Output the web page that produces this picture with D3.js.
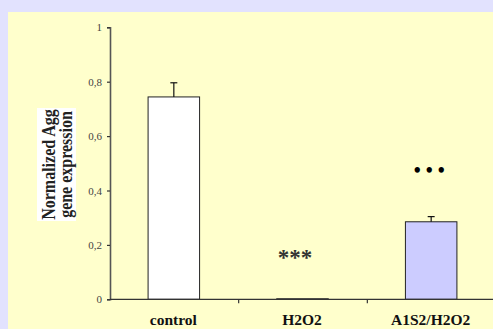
<!DOCTYPE html>
<html>
<head>
  <meta charset="utf-8">
  <title>Agg expression</title>
  <style>
    body { margin: 0; background: #e2e2fe; }
    svg { display: block; }
  </style>
</head>
<body>
  <div id="plot"></div>
  <script src="https://cdn.jsdelivr.net/npm/d3@7/dist/d3.min.js"></script>
  <script>
    // data
    let groups = ['control', 'H2O2', 'A1S2/H2O2'];
    let values = [0.744, 0.002, 0.285];
    let errors = [0.052, 0, 0.019];
    let marks = ['', '***', '\u2022\u2022\u2022'];
    let markAt = [0, 0.125, 0.45];
    let fills = ['#ffffff', '#ffffff', '#ccccff'];
    let yTicks = [0, 0.2, 0.4, 0.6, 0.8, 1];

    function translate(x, y) {
      return 'translate(' + x + ',' + y + ')';
    }

    let svgWidth = 493, svgHeight = 329;
    let margin = {top: 27.3, left: 110};
    let width = 386;    // 3 bands, last one runs off the edge
    let height = 272;
    let serif = '"Liberation Serif", "Times New Roman", serif';

    let svg = d3.select('#plot')
      .append('svg')
        .attr('width', svgWidth)
        .attr('height', svgHeight);

    // pale yellow panel
    svg.append('rect')
      .attr('x', 8).attr('y', 12)
      .attr('width', svgWidth).attr('height', svgHeight)
      .attr('fill', '#ffffcc');

    let g = svg.append('g').attr('transform', translate(margin.left, margin.top));

    let x = d3.scaleBand().domain(groups).range([0, width]).paddingInner(0).paddingOuter(0);
    let y = d3.scaleLinear().domain([0, 1]).range([height, 0]);
    let barW = 51.5;

    // bars
    g.selectAll('.bar')
      .data(groups)
      .enter()
      .append('rect')
        .attr('x', d => x(d) + x.bandwidth() / 2 - barW / 2 - 0.5)
        .attr('y', (d, i) => y(values[i]))
        .attr('width', barW)
        .attr('height', (d, i) => y(0) - y(values[i]))
        .attr('fill', (d, i) => fills[i])
        .attr('stroke', '#222')
        .attr('stroke-width', 1);

    // error bars
    let eb = g.selectAll('.err')
      .data(groups.filter((d, i) => errors[i] > 0))
      .enter()
      .append('g');
    eb.append('line')
      .attr('x1', d => x(d) + x.bandwidth() / 2 - 0.5)
      .attr('x2', d => x(d) + x.bandwidth() / 2 - 0.5)
      .attr('y1', d => y(values[groups.indexOf(d)]))
      .attr('y2', d => { let i = groups.indexOf(d); return y(values[i] + errors[i]); })
      .attr('stroke', '#111').attr('stroke-width', 1.2);
    eb.append('line')
      .attr('x1', d => x(d) + x.bandwidth() / 2 - 4)
      .attr('x2', d => x(d) + x.bandwidth() / 2 + 3)
      .attr('y1', d => { let i = groups.indexOf(d); return y(values[i] + errors[i]); })
      .attr('y2', d => { let i = groups.indexOf(d); return y(values[i] + errors[i]); })
      .attr('stroke', '#111').attr('stroke-width', 1.2);

    // significance marks
    g.selectAll('.mark')
      .data(groups)
      .enter()
      .append('text')
        .attr('x', (d, i) => x(d) + x.bandwidth() / 2 + (i === 2 ? 0 : -8))
        .attr('y', (d, i) => y(markAt[i]))
        .attr('text-anchor', 'middle')
        .style('font-family', serif)
        .style('font-weight', 'bold')
        .style('font-size', (d, i) => i === 2 ? '20px' : '23px')
        .style('letter-spacing', (d, i) => i === 2 ? '5px' : '0px')
        .style('fill', (d, i) => i === 1 ? '#333' : '#000')
        .text((d, i) => marks[i]);

    // Y axis
    let yAxis = d3.axisLeft(y)
      .tickValues(yTicks)
      .tickSize(3)
      .tickPadding(5)
      .tickFormat(d => d === 0 || d === 1 ? String(d) : d3.format('.1f')(d).replace('.', ','));
    let ya = g.append('g').call(yAxis);
    ya.select('.domain').attr('stroke', '#555').attr('stroke-width', 1.6);
    ya.selectAll('.tick line').attr('stroke', '#333').attr('stroke-width', 1.2);
    ya.selectAll('.tick text')
      .style('font-family', serif)
      .style('font-size', '11px')
      .style('fill', '#444');

    // X axis: ticks between categories, pointing down
    let xa = g.append('g').attr('transform', translate(0, height));
    xa.append('line')
      .attr('x1', 0).attr('x2', width)
      .attr('stroke', '#333').attr('stroke-width', 1.2);
    xa.selectAll('.sep')
      .data(groups.slice(1))
      .enter()
      .append('line')
        .attr('x1', d => x(d)).attr('x2', d => x(d))
        .attr('y1', 0).attr('y2', 4)
        .attr('stroke', '#333').attr('stroke-width', 1.2);
    xa.selectAll('.cat')
      .data(groups)
      .enter()
      .append('text')
        .attr('x', d => x(d) + x.bandwidth() / 2 - 1)
        .attr('y', 25.5)
        .attr('text-anchor', 'middle')
        .style('font-family', serif)
        .style('font-weight', 'bold')
        .style('font-size', '15.5px')
        .style('fill', '#111')
        .text(d => d);

    // Y axis title on white box (glyphs look stretched in the original)
    svg.append('rect')
      .attr('x', 37).attr('y', 108)
      .attr('width', 39).attr('height', 113)
      .attr('fill', '#ffffff');
    let title = svg.append('text')
      .attr('transform', translate(40, 164.5) + ' rotate(-90) scale(1,1.2)')
      .attr('text-anchor', 'middle')
      .style('font-family', serif)
      .style('font-weight', 'bold')
      .style('font-size', '16px')
      .style('fill', '#222');
    title.append('tspan').attr('x', 0).attr('y', 12.5).text('Normalized Agg');
    title.append('tspan').attr('x', 0).attr('y', 26.7).text('gene expression');
  </script>
</body>
</html>
